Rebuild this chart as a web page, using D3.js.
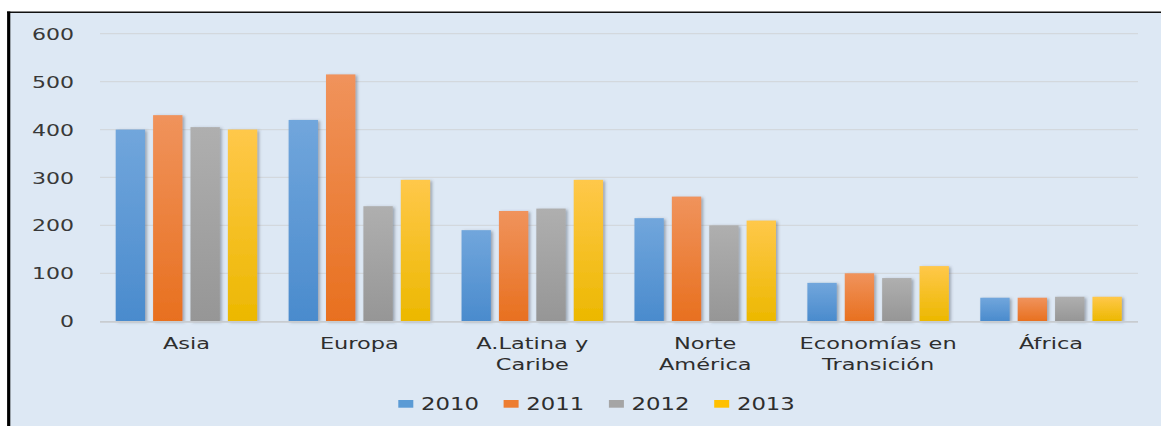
<!DOCTYPE html>
<html><head><meta charset="utf-8">
<script src="https://cdn.jsdelivr.net/npm/d3@7"></script>
<style>body{margin:0;background:#fff;overflow:hidden}</style>
</head><body>
<svg id="c" width="1161" height="426"></svg>
<script>
// ---- data ----
const categories = ["Asia", "Europa", "A.Latina y\nCaribe", "Norte\nAmérica", "Economías en\nTransición", "África"];
const series = ["2010", "2011", "2012", "2013"];
const values2010 = [400, 420, 190, 215, 80, 49];
const values2011 = [430, 515, 230, 260, 100, 49];
const values2012 = [405, 240, 235, 200, 90, 51];
const values2013 = [400, 295, 295, 210, 115, 51];
const yTicks = [0, 100, 200, 300, 400, 500, 600];

const seriesValues = [values2010, values2011, values2012, values2013];
const colors = {
  "2010": ["#71a6dc", "#4a8bcd", "#5b9bd5"],
  "2011": ["#f0935c", "#e8701f", "#ed7d31"],
  "2012": ["#afafaf", "#969696", "#a5a5a5"],
  "2013": ["#ffc84a", "#ecb800", "#ffc000"]
};

const svg = d3.select("#c");
const defs = svg.append("defs");
series.forEach((s, i) => {
  const g = defs.append("linearGradient").attr("id", "g" + i)
    .attr("x1", 0).attr("y1", 0).attr("x2", 0).attr("y2", 1);
  g.append("stop").attr("offset", "0%").attr("stop-color", colors[s][0]);
  g.append("stop").attr("offset", "100%").attr("stop-color", colors[s][1]);
});
const f = defs.append("filter").attr("id", "sh").attr("x", "-20%").attr("y", "-10%").attr("width", "160%").attr("height", "130%");
f.append("feDropShadow").attr("dx", 2).attr("dy", 1).attr("stdDeviation", 1.6)
  .attr("flood-color", "#4a5560").attr("flood-opacity", 0.45);

// frame
svg.append("rect").attr("x", 0).attr("y", 0).attr("width", 1161).attr("height", 426).attr("fill", "#fff");
svg.append("rect").attr("x", 10).attr("y", 13).attr("width", 1151).attr("height", 413).attr("fill", "#dde8f4");
svg.append("line").attr("x1", 7).attr("x2", 1161).attr("y1", 12.3).attr("y2", 12.3).attr("stroke", "#111").attr("stroke-width", 1.6);
svg.append("line").attr("x1", 8.7).attr("x2", 8.7).attr("y1", 11.5).attr("y2", 426).attr("stroke", "#000").attr("stroke-width", 3.2);

// scales
const x0 = d3.scaleBand().domain(categories).range([100, 1137.5]).paddingInner(0).paddingOuter(0);
const gp = 15.7;
const x1 = d3.scaleBand().domain(series).range([gp, x0.bandwidth() - gp]).paddingInner(0.215).paddingOuter(0);
const y = d3.scaleLinear().domain([0, 600]).range([321.2, 33.7]);

// gridlines
svg.append("g").selectAll("line").data(yTicks.filter(t => t > 0)).join("line")
  .attr("x1", 100).attr("x2", 1138)
  .attr("y1", d => y(d)).attr("y2", d => y(d))
  .attr("stroke", "#d3d8dd").attr("stroke-width", 1.3);

// y axis
const yAxis = svg.append("g").attr("transform", "translate(100,0)")
  .call(d3.axisLeft(y).tickValues(yTicks).tickSize(0).tickPadding(0));
yAxis.select(".domain").remove();
yAxis.selectAll("text")
  .attr("x", 0).attr("dy", null).attr("y", 5.6)
  .attr("transform", "translate(-26,0) scale(1.47,1)")
  .attr("text-anchor", "end")
  .style("font-family", "DejaVu Sans").style("font-size", "15px").attr("fill", "#383838");

// bars
const groups = svg.append("g").selectAll("g").data(categories).join("g")
  .attr("transform", d => `translate(${x0(d)},0)`);
groups.selectAll("rect").data((d, ci) => series.map((s, si) => ({ s, si, v: seriesValues[si][ci] })))
  .join("rect")
  .attr("x", d => x1(d.s)).attr("width", x1.bandwidth())
  .attr("y", d => y(d.v)).attr("height", d => y(0) - y(d.v))
  .attr("fill", d => `url(#g${d.si})`)
  .attr("filter", "url(#sh)");

// baseline
svg.append("line").attr("x1", 100).attr("x2", 1138).attr("y1", y(0) + 0.6).attr("y2", y(0) + 0.6)
  .attr("stroke", "#c8ccd0").attr("stroke-width", 1.8);

// category labels
const lab = svg.append("g").selectAll("g").data(categories).join("g")
  .attr("transform", d => `translate(${x0(d) + x0.bandwidth() / 2},349) scale(1.45,1)`);
lab.each(function (d) {
  const lines = d.split("\n");
  const t = d3.select(this).append("text").attr("text-anchor", "middle")
    .style("font-family", "DejaVu Sans").style("font-size", "15.5px").attr("fill", "#2e2e2e");
  lines.forEach((ln, i) => t.append("tspan").attr("x", 0).attr("y", i * 21.5).text(ln));
});

// legend
const lx = d3.scaleBand().domain(series).range([398.3, 398.3 + 105.3 * 4]);
const leg = svg.append("g").selectAll("g").data(series).join("g")
  .attr("transform", d => `translate(${lx(d)},0)`);
leg.append("rect").attr("x", 0).attr("y", 400).attr("width", 15).attr("height", 7.7)
  .attr("fill", (d) => colors[d][2]);
leg.append("text").attr("transform", "translate(22.7,410) scale(1.34,1)")
  .style("font-family", "DejaVu Sans").style("font-size", "17px").attr("fill", "#2e2e2e")
  .text(d => d);
</script>
</body></html>
